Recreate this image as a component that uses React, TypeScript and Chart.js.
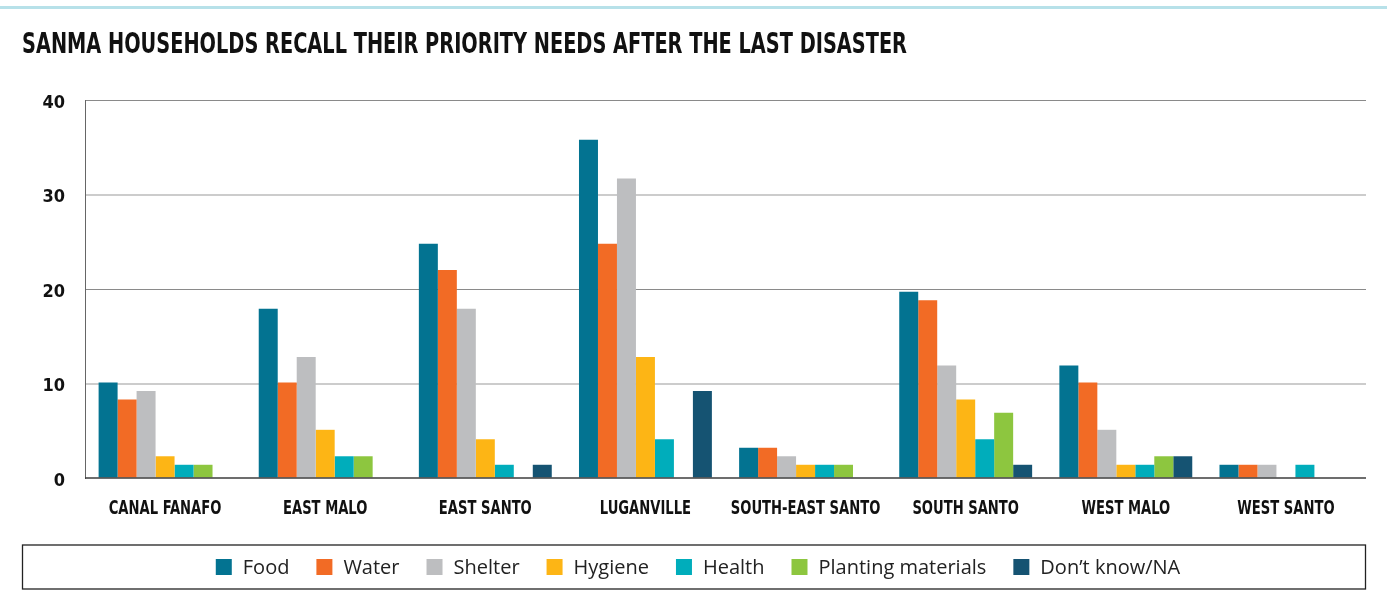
import React, { useEffect, useRef } from "react";
import { Chart, registerables } from "chart.js";

Chart.register(...registerables);

const categories = [
  "CANAL FANAFO",
  "EAST MALO",
  "EAST SANTO",
  "LUGANVILLE",
  "SOUTH-EAST SANTO",
  "SOUTH SANTO",
  "WEST MALO",
  "WEST SANTO",
];

const food = [10.1, 17.9, 24.8, 35.8, 3.2, 19.7, 11.9, 1.4];
const water = [8.3, 10.1, 22.0, 24.8, 3.2, 18.8, 10.1, 1.4];
const shelter = [9.2, 12.8, 17.9, 31.7, 2.3, 11.9, 5.1, 1.4];
const hygiene = [2.3, 5.1, 4.1, 12.8, 1.4, 8.3, 1.4, 0];
const health = [1.4, 2.3, 1.4, 4.1, 1.4, 4.1, 1.4, 1.4];
const planting = [1.4, 2.3, 0, 0, 1.4, 6.9, 2.3, 0];
const dontKnow = [0, 0, 1.4, 9.2, 0, 1.4, 2.3, 0];

const seriesNames = ["Food", "Water", "Shelter", "Hygiene", "Health", "Planting materials", "Don\u2019t know/NA"];
const seriesColors = ["#037391", "#f26b25", "#bdbec0", "#fdb515", "#00adbb", "#8dc63f", "#155372"];
const yTicks = [0, 10, 20, 30, 40];

const TITLE = "SANMA HOUSEHOLDS RECALL THEIR PRIORITY NEEDS AFTER THE LAST DISASTER";
const COND = '"DejaVu Sans Condensed", "DejaVu Sans", sans-serif';
const LEGEND_FONT = '"Open Sans", Lato, sans-serif';

function condensedText(ctx: any, text: string, x: number, y: number, align: string, font: string, sx: number, color: string) {
  ctx.save();
  ctx.font = font;
  ctx.fillStyle = color;
  ctx.textAlign = align;
  ctx.textBaseline = "alphabetic";
  ctx.translate(x, y);
  ctx.scale(sx, 1);
  ctx.fillText(text, 0, 0);
  ctx.restore();
}

const decorPlugin = {
  id: "decor",
  beforeDraw(chart: any) {
    const ctx = chart.ctx;
    ctx.save();
    ctx.fillStyle = "#b7e1e9";
    ctx.fillRect(0, 6, chart.width, 3);
    ctx.restore();
    const tFont = `bold 29px ${COND}`;
    ctx.save();
    ctx.font = tFont;
    const w = ctx.measureText(TITLE).width;
    ctx.restore();
    condensedText(ctx, TITLE, 22, 53, "left", tFont, 885 / w, "#111");
  },
  afterDatasetsDraw(chart: any) {
    const ctx = chart.ctx;
    const xs = chart.scales.x;
    const y = chart.scales.y.getPixelForValue(0);
    const { left, right } = chart.chartArea;
    ctx.save();
    ctx.strokeStyle = "rgba(60,60,60,0.75)";
    ctx.lineWidth = 2;
    ctx.beginPath();
    ctx.moveTo(left, y);
    ctx.lineTo(right, y);
    ctx.stroke();
    ctx.restore();
    const labels = chart.data.labels as string[];
    labels.forEach((lab, i) => {
      condensedText(ctx, lab, xs.getPixelForValue(i), y + 36, "center", `bold 20px ${COND}`, 0.73, "#111");
    });
  },
  afterDraw(chart: any) {
    const ctx = chart.ctx;
    const boxL = 22;
    const boxR = chart.width - 21;
    const boxT = chart.chartArea.bottom + 66.5;
    const boxB = boxT + 45;
    ctx.save();
    ctx.strokeStyle = "#222";
    ctx.lineWidth = 1.3;
    ctx.strokeRect(boxL + 0.5, boxT + 0.5, boxR - boxL - 1, boxB - boxT - 1);
    ctx.font = `20px ${LEGEND_FONT}`;
    const sq = 16, gap = 11, itemGap = 27;
    const ds = chart.data.datasets;
    const widths = ds.map((d: any) => sq + gap + ctx.measureText(d.label).width);
    const total = widths.reduce((a: number, b: number) => a + b, 0) + itemGap * (ds.length - 1);
    let x = (boxL + boxR) / 2 - total / 2 + 4;
    const cy = (boxT + boxB) / 2;
    ds.forEach((d: any, i: number) => {
      ctx.fillStyle = d.backgroundColor;
      ctx.fillRect(x, cy - sq / 2, sq, sq);
      ctx.fillStyle = "#222";
      ctx.textAlign = "left";
      ctx.textBaseline = "middle";
      ctx.fillText(d.label, x + sq + gap, cy + 1);
      x += widths[i] + itemGap;
    });
    ctx.restore();
  },
};

export default function App() {
  const ref = useRef<HTMLCanvasElement>(null);
  useEffect(() => {
    if (!ref.current) return;
    const all = [food, water, shelter, hygiene, health, planting, dontKnow];
    const chart = new Chart(ref.current, {
      type: "bar",
      data: {
        labels: categories,
        datasets: all.map((d, i) => ({
          label: seriesNames[i],
          data: d,
          backgroundColor: seriesColors[i],
          borderWidth: 0,
          categoryPercentage: 0.83,
          barPercentage: 1.0,
        })),
      },
      options: {
        animation: false,
        responsive: false,
        maintainAspectRatio: false,
        layout: { padding: { left: 22, right: 21, top: 100, bottom: 68 } },
        plugins: {
          title: { display: false },
          legend: { display: false },
          tooltip: { enabled: false },
        },
        scales: {
          x: {
            grid: { display: false },
            border: { display: false },
            ticks: { display: false },
            afterFit(scale: any) {
              scale.height = 66;
            },
          },
          y: {
            min: 0,
            max: 40,
            afterBuildTicks(scale: any) {
              scale.ticks = yTicks.map((v) => ({ value: v }));
            },
            border: { display: true, color: "#666", width: 1 },
            grid: {
              drawTicks: false,
              color: (c: any) => {
                const v = c.tick && c.tick.value;
                if (v === 0) return "rgba(0,0,0,0)";
                return v === 10 || v === 30 ? "#cccccc" : "#8a8a8a";
              },
              lineWidth: (c: any) => {
                const v = c.tick && c.tick.value;
                return v === 10 || v === 30 ? 2 : 1;
              },
            },
            ticks: {
              color: "#111",
              padding: 20,
              labelOffset: 3,
              font: { family: COND, size: 18, weight: "bold" },
            },
            afterFit(scale: any) {
              scale.width = 63;
            },
          },
        },
      },
      plugins: [decorPlugin],
    });
    return () => chart.destroy();
  }, []);
  return (
    <div style={{ position: "absolute", left: 0, top: 0, width: 1387, height: 612, background: "#fff" }}>
      <canvas ref={ref} width={1387} height={612} style={{ display: "block", width: 1387, height: 612 }} />
    </div>
  );
}
